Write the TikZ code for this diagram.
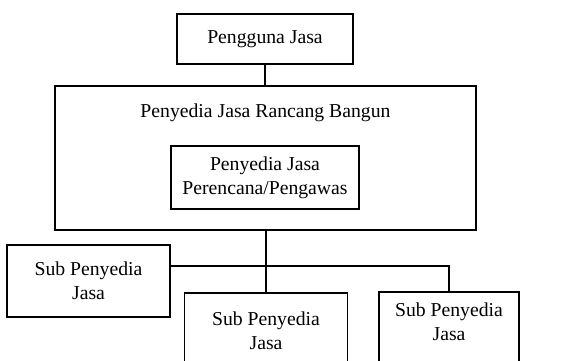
\documentclass[tikz,border=0pt]{standalone}
\usepackage{fontspec}
\setmainfont{Liberation Serif}
\begin{document}
\begin{tikzpicture}[x=1pt,y=-1pt,
  box/.style={draw,line width=1.5pt,rectangle,inner sep=0pt,align=center},
  txt/.style={inner sep=0pt,align=center},
  conn/.style={line width=1.5pt},
  every node/.style={font=\fontsize{19.7}{24}\selectfont}]
\useasboundingbox (0,0) rectangle (565,360);
\clip (0,0) rectangle (565,360);
% top
\node[box,minimum width=176pt,minimum height=50pt] (pj) at (265,39) {Pengguna Jasa};
% big box
\node[box,minimum width=421pt,minimum height=144pt] (rb) at (265.5,158) {};
\node[txt,anchor=base] (rbt) at (265.5,117) {Penyedia Jasa Rancang Bangun};
\node[box,minimum width=188pt,minimum height=63pt] (pp) at (265,177.5) {Penyedia Jasa\\Perencana/Pengawas};
% subs
\node[box,minimum width=163pt,minimum height=72pt] (s1) at (88.5,281) {Sub Penyedia\\Jasa};
\node[box,minimum width=163pt,minimum height=76pt] (s2) at (266,331) {Sub Penyedia\\Jasa};
\node[box,minimum width=140pt,minimum height=90pt] (s3) at (449,337) {};
\node[txt] (s3t) at (449,322) {Sub Penyedia\\Jasa};
% connectors
\coordinate (hy) at (0,266);
\draw[conn] (pj.south) -- (pj.south |- rb.north);
\draw[conn] (rb.south -| s2.north) -- (s2.north);
\draw[conn] (s1.east |- hy) -- (s3.north |- hy) -- (s3.north);
\end{tikzpicture}
\end{document}
